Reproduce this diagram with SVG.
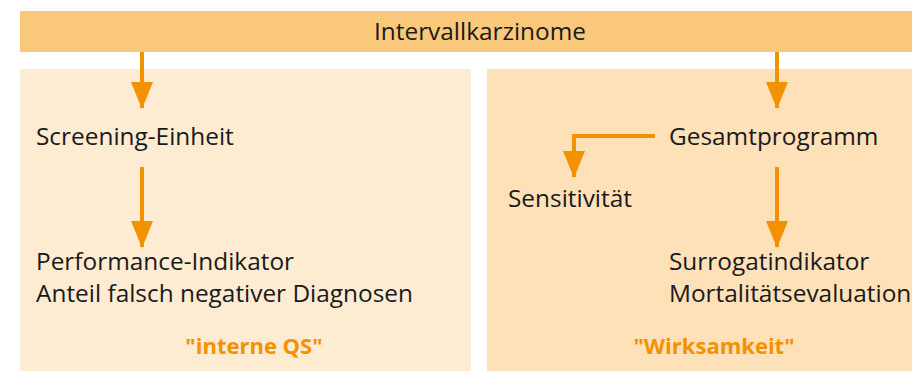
<svg xmlns="http://www.w3.org/2000/svg" width="912" height="371" viewBox="0 0 912 371">
<defs>
<style>
.t{font-family:"Open Sans","Noto Sans","Liberation Sans",sans-serif;font-size:24.4px;fill:#1a1a1a}
.q{font-family:"Open Sans","Noto Sans","Liberation Sans",sans-serif;font-size:22px;font-weight:bold;fill:#f39200}
.c{fill:none;stroke:#f39200;stroke-width:4}
</style>
<marker id="ah" viewBox="0 0 27 22" refX="26" refY="11" markerWidth="27" markerHeight="22" markerUnits="userSpaceOnUse" orient="auto">
<path d="M0,0 L27,11 L0,22 Z" fill="#f39200"/>
</marker>
</defs>
<rect width="912" height="371" fill="#ffffff"/>
<g id="top">
<rect x="20" y="11" width="892" height="41" fill="#fac87a"/>
<text class="t" x="480" y="40" text-anchor="middle">Intervallkarzinome</text>
</g>
<g id="panel-left">
<rect x="20" y="69" width="451" height="302" fill="#fdebd2"/>
<text class="q" x="254" y="354" text-anchor="middle">"interne QS"</text>
</g>
<g id="panel-right">
<rect x="487" y="69" width="425" height="302" fill="#fee0b9"/>
<text class="q" x="714" y="354" text-anchor="middle">"Wirksamkeit"</text>
</g>
<g id="screening">
<text class="t" x="36" y="145">Screening-Einheit</text>
</g>
<g id="performance">
<text class="t" x="36" y="270">Performance-Indikator</text>
<text class="t" x="36" y="302">Anteil falsch negativer Diagnosen</text>
</g>
<g id="gesamt">
<text class="t" x="669" y="145">Gesamtprogramm</text>
</g>
<g id="sensitivitaet">
<text class="t" x="508" y="207">Sensitivität</text>
</g>
<g id="surrogat">
<text class="t" x="669" y="270">Surrogatindikator</text>
<text class="t" x="669" y="302">Mortalitätsevaluation</text>
</g>
<g id="connectors">
<path class="c" d="M142,52 V108" marker-end="url(#ah)"/>
<path class="c" d="M142,167 V247" marker-end="url(#ah)"/>
<path class="c" d="M777,52 V108" marker-end="url(#ah)"/>
<path class="c" d="M777,167 V247" marker-end="url(#ah)"/>
<path class="c" d="M655,136 H574 V177" marker-end="url(#ah)"/>
</g>
</svg>
